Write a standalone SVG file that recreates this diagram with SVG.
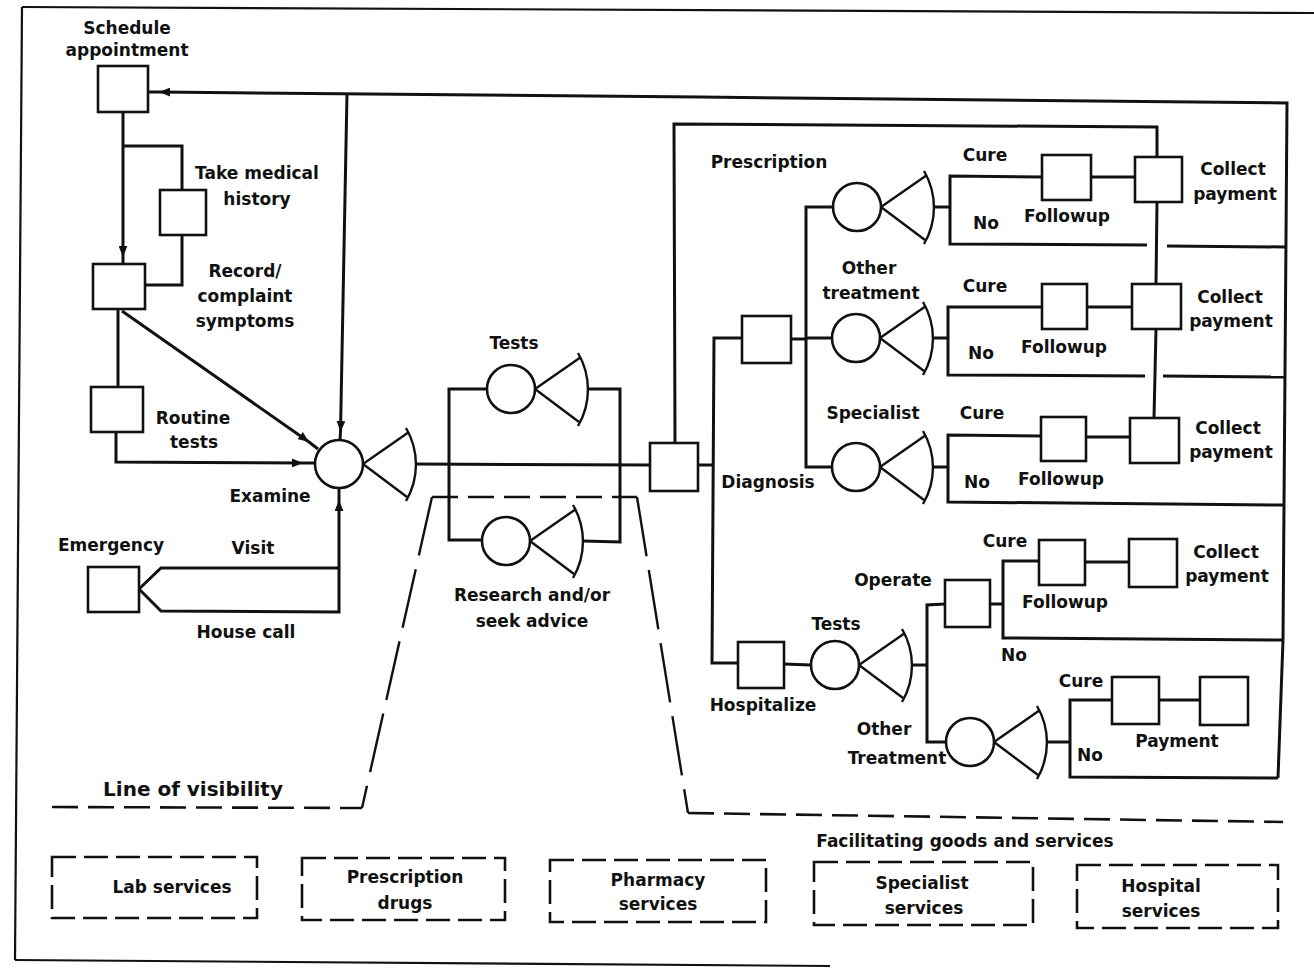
<svg xmlns="http://www.w3.org/2000/svg" xmlns:xlink="http://www.w3.org/1999/xlink" width="1314" height="968" viewBox="0 0 1314 968">
  <style>
    .ln { fill: none; stroke: #111; stroke-width: 3; stroke-linejoin: miter; }
    .fr { fill: none; stroke: #111; stroke-width: 2.2; }
    .bx { fill: #fff; stroke: #111; stroke-width: 2.6; }
    .ds { fill: none; stroke: #111; stroke-width: 2.6; stroke-dasharray: 26 10; }
    .dsl { fill: none; stroke: #111; stroke-width: 2.4; stroke-dasharray: 60 14; }
    .db { fill: none; stroke: #111; stroke-width: 2.6; stroke-dasharray: 24 8; }
    .ar { marker-mid: url(#ah); }
    text { font-family: "DejaVu Sans", "Liberation Sans", sans-serif; font-weight: bold; font-size: 17px; fill: #111; text-anchor: middle; }
    .big { font-size: 20px; }
  </style>
  <defs>
    <marker id="ah" viewBox="0 0 10 8" refX="10" refY="4" markerWidth="11" markerHeight="9" markerUnits="userSpaceOnUse" orient="auto">
      <path d="M0,0 L10,4 L0,8 z" fill="#111"/>
    </marker>
    <!-- service/decision symbol: circle with a fan-shaped fail point -->
    <g id="wedge">
      <circle cx="0" cy="0" r="24" fill="#fff" stroke="#111" stroke-width="2.6"/>
      <path d="M24,0 L70,-32 M24,0 L68,33" fill="none" stroke="#111" stroke-width="2.4"/>
      <path d="M67,-36 A72 72 0 0 1 67,37" fill="none" stroke="#111" stroke-width="2.4"/>
    </g>
  </defs>

  <rect width="1314" height="968" fill="#fff"/>

  <!-- outer frame -->
  <g id="frame">
    <path class="fr" d="M22,7 L1314,13"/>
    <path class="fr" d="M22,7 L15,960"/>
    <path class="fr" d="M15,960 L830,966"/>
  </g>

  <!-- connectors -->
  <g id="connectors">
    <path class="ln" d="M1278,778 L1283,640 L1287,103 L700,97"/>
    <path class="ln ar" d="M700,97 L159,92 L148,92"/>
    <path class="ln ar" d="M347,93 L340.5,432 L340,440"/>
    <path class="ln ar" d="M123,112 L123,257 L123,264"/>
    <path class="ln" d="M123,146 L182,146 L182,190"/>
    <path class="ln" d="M182,235 L182,285 L145,285"/>
    <path class="ln" d="M118,309 L118,387"/>
    <path class="ln" d="M116,432 L116,462 L200,462.5"/>
    <path class="ln ar" d="M200,462.5 L303,463 L314,463"/>
    <path class="ln ar" d="M122,311 L309,442 L318,449"/>
    <path class="ln" d="M139,589 L161,568 L339,568"/>
    <path class="ln" d="M139,589 L161,611 L339,612 L339,540"/>
    <path class="ln ar" d="M339,540 L339,500 L339,489"/>
    <path class="ln" d="M416,464 L650,465"/>
    <path class="ln" d="M487,389 L449,389 L449,540 L482,540"/>
    <path class="ln" d="M588,389 L620,389 L620,542 L583,541"/>
    <path class="ln" d="M675,443 L674,124 L1157,127 L1157,157"/>
    <path class="ln" d="M698,465 L713,465"/>
    <path class="ln" d="M742,338 L714,338 L712,663 L738,663"/>
    <path class="ln" d="M791,339 L806,339"/>
    <path class="ln" d="M833,207 L806,207 L806,467 L832,467"/>
    <path class="ln" d="M806,338 L832,338"/>
    <!-- prescription outcomes -->
    <path class="ln" d="M934,207 L950,207"/>
    <path class="ln" d="M1042,177 L950,176 L950,244 L1147,245"/>
    <path class="ln" d="M1167,246 L1286,247"/>
    <path class="ln" d="M1091,177 L1135,177"/>
    <path class="ln" d="M1157,202 L1156,284"/>
    <path class="ln" d="M1156,329 L1154,418"/>
    <!-- other treatment outcomes -->
    <path class="ln" d="M933,338 L948,338"/>
    <path class="ln" d="M1042,307 L948,307 L948,375 L1145,376"/>
    <path class="ln" d="M1163,376 L1284,377"/>
    <path class="ln" d="M1087,307 L1132,307"/>
    <!-- specialist outcomes -->
    <path class="ln" d="M933,467 L948,467"/>
    <path class="ln" d="M1041,436 L948,435 L948,502 L1283,505"/>
    <path class="ln" d="M1086,437 L1130,437"/>
    <!-- hospital branch -->
    <path class="ln" d="M784,664 L811,665"/>
    <path class="ln" d="M912,665 L927,665"/>
    <path class="ln" d="M945,604 L927,605 L927,742 L946,742"/>
    <path class="ln" d="M990,604 L1003,604"/>
    <path class="ln" d="M1039,561 L1003,561 L1003,638 L1283,640"/>
    <path class="ln" d="M1085,562 L1129,562"/>
    <path class="ln" d="M1047,742 L1070,742"/>
    <path class="ln" d="M1112,700 L1070,700 L1070,777 L1278,778"/>
    <path class="ln" d="M1159,700 L1200,700"/>
  </g>

  <!-- line of visibility -->
  <g id="visibility-line">
    <path class="ds" d="M52,807 L362,808"/>
    <path class="dsl" d="M432,497 L362,808"/>
    <path class="ds" d="M432,497 L637,497"/>
    <path class="dsl" d="M637,497 L688,813"/>
    <path class="ds" d="M688,813 L1283,822"/>
    <text class="big" x="193" y="796">Line of visibility</text>
    <text x="965" y="847">Facilitating goods and services</text>
  </g>

  <!-- process nodes -->
  <g id="schedule-appointment">
    <rect class="bx" x="98" y="66" width="50" height="46"/>
    <text x="127" y="34">Schedule</text>
    <text x="127" y="56">appointment</text>
  </g>
  <g id="take-medical-history">
    <rect class="bx" x="160" y="190" width="46" height="45"/>
    <text x="257" y="179">Take medical</text>
    <text x="257" y="205">history</text>
  </g>
  <g id="record-complaint">
    <rect class="bx" x="93" y="264" width="52" height="45"/>
    <text x="245" y="277">Record/</text>
    <text x="245" y="302">complaint</text>
    <text x="245" y="327">symptoms</text>
  </g>
  <g id="routine-tests">
    <rect class="bx" x="91" y="387" width="52" height="45"/>
    <text x="193" y="424">Routine</text>
    <text x="194" y="448">tests</text>
  </g>
  <g id="emergency">
    <rect class="bx" x="88" y="567" width="51" height="45"/>
    <text x="111" y="551">Emergency</text>
    <text x="253" y="554">Visit</text>
    <text x="246" y="638">House call</text>
  </g>
  <g id="examine">
    <use xlink:href="#wedge" x="339" y="464"/>
    <text x="270" y="502">Examine</text>
  </g>
  <g id="tests">
    <use xlink:href="#wedge" x="511" y="389"/>
    <text x="514" y="349">Tests</text>
  </g>
  <g id="research">
    <use xlink:href="#wedge" x="506" y="541"/>
    <text x="532" y="601">Research and/or</text>
    <text x="532" y="627">seek advice</text>
  </g>
  <g id="diagnosis">
    <rect class="bx" x="650" y="443" width="48" height="48"/>
    <text x="768" y="488">Diagnosis</text>
  </g>
  <g id="treatment-choice">
    <rect class="bx" x="742" y="316" width="49" height="47"/>
  </g>
  <g id="prescription">
    <use xlink:href="#wedge" x="857" y="207"/>
    <text x="769" y="168">Prescription</text>
  </g>
  <g id="other-treatment">
    <use xlink:href="#wedge" x="856" y="338"/>
    <text x="869" y="274">Other</text>
    <text x="871" y="299">treatment</text>
  </g>
  <g id="specialist">
    <use xlink:href="#wedge" x="856" y="467"/>
    <text x="873" y="419">Specialist</text>
  </g>
  <g id="followup-1">
    <rect class="bx" x="1042" y="155" width="49" height="45"/>
    <text x="985" y="161">Cure</text>
    <text x="986" y="229">No</text>
    <text x="1067" y="222">Followup</text>
  </g>
  <g id="collect-payment-1">
    <rect class="bx" x="1135" y="157" width="47" height="45"/>
    <text x="1233" y="175">Collect</text>
    <text x="1235" y="200">payment</text>
  </g>
  <g id="followup-2">
    <rect class="bx" x="1042" y="284" width="45" height="45"/>
    <text x="985" y="292">Cure</text>
    <text x="981" y="359">No</text>
    <text x="1064" y="353">Followup</text>
  </g>
  <g id="collect-payment-2">
    <rect class="bx" x="1132" y="284" width="49" height="45"/>
    <text x="1230" y="303">Collect</text>
    <text x="1231" y="327">payment</text>
  </g>
  <g id="followup-3">
    <rect class="bx" x="1041" y="417" width="45" height="44"/>
    <text x="982" y="419">Cure</text>
    <text x="977" y="488">No</text>
    <text x="1061" y="485">Followup</text>
  </g>
  <g id="collect-payment-3">
    <rect class="bx" x="1130" y="418" width="49" height="45"/>
    <text x="1228" y="434">Collect</text>
    <text x="1231" y="458">payment</text>
  </g>
  <g id="hospitalize">
    <rect class="bx" x="738" y="642" width="46" height="46"/>
    <text x="763" y="711">Hospitalize</text>
  </g>
  <g id="hospital-tests">
    <use xlink:href="#wedge" x="835" y="665"/>
    <text x="836" y="630">Tests</text>
  </g>
  <g id="operate">
    <rect class="bx" x="945" y="580" width="45" height="47"/>
    <text x="893" y="586">Operate</text>
    <text x="1014" y="661">No</text>
  </g>
  <g id="followup-4">
    <rect class="bx" x="1039" y="540" width="46" height="45"/>
    <text x="1005" y="547">Cure</text>
    <text x="1065" y="608">Followup</text>
  </g>
  <g id="collect-payment-4">
    <rect class="bx" x="1129" y="539" width="48" height="48"/>
    <text x="1226" y="558">Collect</text>
    <text x="1227" y="582">payment</text>
  </g>
  <g id="other-treatment-2">
    <use xlink:href="#wedge" x="970" y="742"/>
    <text x="884" y="735">Other</text>
    <text x="897" y="764">Treatment</text>
  </g>
  <g id="cure-5">
    <rect class="bx" x="1112" y="677" width="47" height="47"/>
    <text x="1081" y="687">Cure</text>
    <text x="1090" y="761">No</text>
  </g>
  <g id="payment-5">
    <rect class="bx" x="1200" y="677" width="48" height="48"/>
    <text x="1177" y="747">Payment</text>
  </g>

  <!-- facilitating goods and services -->
  <g id="lab-services">
    <rect class="db" x="52" y="857" width="205" height="61"/>
    <text x="172" y="893">Lab services</text>
  </g>
  <g id="prescription-drugs">
    <rect class="db" x="302" y="858" width="203" height="62"/>
    <text x="405" y="883">Prescription</text>
    <text x="405" y="909">drugs</text>
  </g>
  <g id="pharmacy-services">
    <rect class="db" x="550" y="860" width="216" height="62"/>
    <text x="658" y="886">Pharmacy</text>
    <text x="658" y="910">services</text>
  </g>
  <g id="specialist-services">
    <rect class="db" x="814" y="862" width="219" height="63"/>
    <text x="922" y="889">Specialist</text>
    <text x="924" y="914">services</text>
  </g>
  <g id="hospital-services">
    <rect class="db" x="1077" y="865" width="201" height="63"/>
    <text x="1161" y="892">Hospital</text>
    <text x="1161" y="917">services</text>
  </g>
</svg>
